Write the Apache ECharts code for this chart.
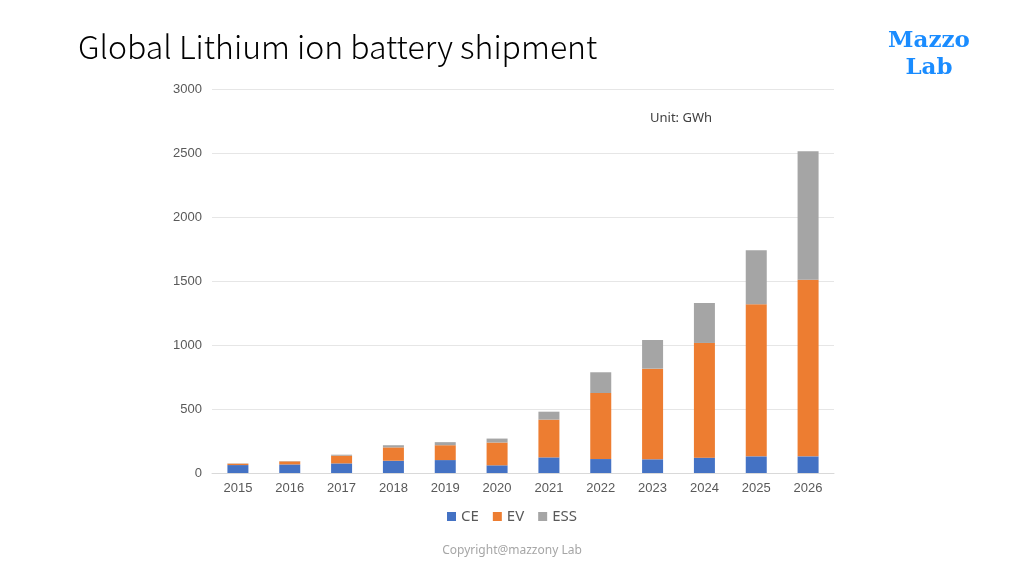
<!DOCTYPE html>
<html>
<head>
<meta charset="utf-8">
<script src="https://cdn.jsdelivr.net/npm/echarts@6/dist/echarts.min.js"></script>
<style>
  html, body { margin: 0; padding: 0; background: #fff; }
  #chart { width: 1024px; height: 576px; }
</style>
</head>
<body>
<div id="chart"></div>
<script>
const years = ['2015', '2016', '2017', '2018', '2019', '2020', '2021', '2022', '2023', '2024', '2025', '2026']
const ce = [62, 67, 75, 96, 101, 60, 122, 109, 107, 120, 130, 130]
const ev = [11, 24, 60, 104, 116, 178, 295, 516, 708, 896, 1188, 1380]
const ess = [2, 2, 8, 17, 24, 31, 62, 162, 224, 312, 422, 1003]

function shipment() {
  const labelColor = '#595959'
  const option = {
    animation: false,
    title: [
      {
        text: 'Global Lithium ion battery shipment',
        left: 73,
        top: 26,
        textStyle: {fontFamily: 'Noto Sans CJK SC', fontSize: 32, fontWeight: 300, color: '#000'},
      },
      {
        text: 'Mazzo\nLab',
        left: 924,
        top: 23,
        textAlign: 'center',
        textStyle: {fontFamily: 'DejaVu Serif', fontSize: 23, fontWeight: 'bold', color: '#1a8cff', lineHeight: 27, align: 'center'},
      },
      {
        text: 'Unit: GWh',
        left: 645,
        top: 107,
        textStyle: {fontFamily: 'Noto Sans', fontSize: 13, fontWeight: 'normal', color: '#404040'},
      },
      {
        text: 'Copyright@mazzony Lab',
        left: 'center',
        top: 540,
        textStyle: {fontFamily: 'Noto Sans', fontSize: 12, fontWeight: 'normal', color: '#a6a6a6'},
      },
    ],
    legend: {
      data: ['CE', 'EV', 'ESS'],
      bottom: 47,
      left: 'center',
      itemWidth: 9,
      itemHeight: 9,
      itemGap: 14,
      icon: 'rect',
      textStyle: {fontFamily: 'Noto Sans', fontSize: 15, color: labelColor},
    },
    grid: {
      left: 212,
      right: 190,
      top: 89,
      bottom: 103,
    },
    xAxis: {
      type: 'category',
      data: years,
      axisLine: {lineStyle: {color: '#d9d9d9'}},
      axisTick: {show: false},
      axisLabel: {fontFamily: 'Liberation Sans', fontSize: 13, color: labelColor, margin: 9},
    },
    yAxis: {
      type: 'value',
      min: 0,
      max: 3000,
      interval: 500,
      axisLine: {show: false},
      axisTick: {show: false},
      splitLine: {lineStyle: {color: '#e6e6e6'}},
      axisLabel: {fontFamily: 'Liberation Sans', fontSize: 13, color: labelColor, margin: 10, formatter: v => String(v)},
    },
    series: [
      {name: 'CE', type: 'bar', stack: 'total', barWidth: 21, data: ce, itemStyle: {color: '#4472C4'}},
      {name: 'EV', type: 'bar', stack: 'total', barWidth: 21, data: ev, itemStyle: {color: '#ED7D31'}},
      {name: 'ESS', type: 'bar', stack: 'total', barWidth: 21, data: ess, itemStyle: {color: '#A5A5A5'}},
    ],
  }

  var myChart = echarts.init(document.getElementById('chart'))
  myChart.setOption(option)
}

shipment()
</script>
</body>
</html>
